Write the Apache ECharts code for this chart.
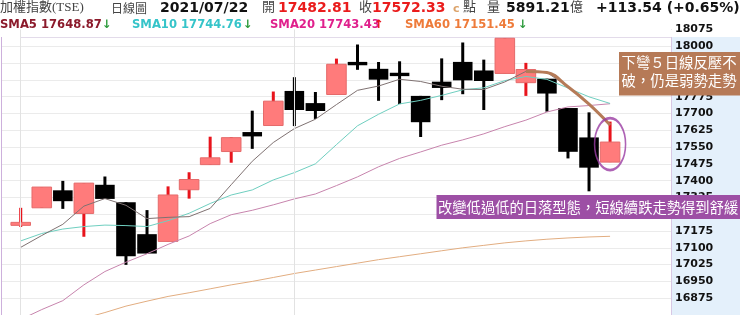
<!DOCTYPE html>
<html><head><meta charset="utf-8">
<script src="https://cdn.jsdelivr.net/npm/echarts@6/dist/echarts.min.js"></script>
<style>html,body{margin:0;padding:0;background:#fff}#c{width:740px;height:315px}</style>
</head><body><div id="c"></div>
<script>
// ---- data ----
const dates = ['06/11','06/15','06/16','06/17','06/18','06/21','06/22','06/23','06/24','06/25','06/28','06/29','06/30',
  '07/01','07/02','07/05','07/06','07/07','07/08','07/09','07/12','07/13','07/14','07/15','07/16','07/19','07/20','07/21','07/22'];
const openP  = [17201.5,17278.7,17356.8,17253.5,17381.5,17303.8,17161,17128.7,17359.4,17471.5,17530,17617,17646.2,
  17800.6,17746.3,17784.7,17930.3,17899.4,17881.8,17778.5,17842,17930.3,17892,17878.7,17837.6,17855.3,17724.3,17593,17482.81];
const closeP = [17212.5,17371.3,17308.3,17389,17318.4,17062.5,17074.4,17336,17405,17502,17592,17597.6,17755,
  17715.4,17711,17919.7,17915.3,17851,17866.8,17661,17814,17848,17845,18036,17896.3,17789,17528.8,17458,17572.33];
const highP  = [17278.7,17371.3,17399,17389,17418.5,17303.8,17268.5,17374.4,17437.5,17596.3,17595,17712.4,17798,
  17862,17796,17945,18008,17930,17933,17778.5,17946,18017,17940.4,18036,17926,17855.3,17724.3,17705,17663.8];
const lowP   = [17193.5,17278.7,17274,17149.4,17318.4,17024,17074.4,17128.7,17319.7,17471.5,17480,17542,17646.2,
  17643.6,17675.7,17784.7,17895,17756.5,17742,17595,17759.5,17786,17715.4,17878.7,17778.5,17708,17499.3,17352.4,17482.81];
const sma5  = [17102.2,17155.1,17205,17286.2,17319.9,17289.9,17230.5,17236.1,17239.3,17276,17381.9,17486.5,17570.3,
  17632.4,17674.2,17739.7,17803.3,17822.5,17852.8,17842.8,17821.6,17808.2,17807,17840.8,17887.9,17882.9,17819,17741.6,17648.87];
const sma10 = [17130.9,17164,17183.8,17194.9,17201.5,17199.3,17194.9,17221.3,17254.4,17297.9,17335.9,17358.5,17403.2,
  17435.8,17475.1,17560.8,17644.9,17696.4,17742.6,17758.5,17780.7,17805.7,17814.7,17846.8,17865.3,17852.2,17813.6,17774.3,17744.76];
const sma20 = [16780,16824.3,16864,16934.6,16994.1,17036,17073.5,17115.4,17152.9,17208.1,17247.8,17267.6,17291.9,
  17318.4,17340.4,17377.9,17416.8,17461.8,17499.3,17528.2,17558.3,17582.1,17609,17641.3,17670.2,17706.5,17729.3,17735.4,17743.43];
const sma60 = ['-','-','-',16785,16811,16839.7,16861.8,16882.9,16899.3,16916.9,16934.6,16950,16967.6,
  16985.3,17000.7,17016.2,17031.6,17047.1,17060.3,17073.5,17086.8,17100,17111,17122.1,17130.9,17138.4,17144.1,17148.5,17151.45];
const highlightFrom = 24;             // 5-day line bending down (annotated)
const circleMark = [28, 17563];       // circled last candle
const monthLines = ['06/11','07/01'];
const yMin = 16800, yMax = 18075, yStep = 75;

const candleData = dates.map((d,i)=>[i, openP[i], closeP[i], lowP[i], highP[i]]);
const sma5Down = sma5.map((v,i)=> i >= highlightFrom ? v : '-');

function renderCandle(params, api) {
  const i = api.value(0);
  const o = api.value(1), c = api.value(2), l = api.value(3), h = api.value(4);
  const pO = api.coord([i,o]), pC = api.coord([i,c]), pL = api.coord([i,l]), pH = api.coord([i,h]);
  const band = api.size([1,0])[0];
  const bw = band * 0.93;
  const x = pO[0];
  const up = c >= o;
  let top = Math.min(pO[1],pC[1]), bot = Math.max(pO[1],pC[1]);
  if (bot - top < 3) { const m = (top+bot)/2; top = m-1.5; bot = m+1.5; }
  return {type:'group', children:[
    {type:'rect', shape:{x:x-1.5, y:pH[1], width:3, height:Math.max(pL[1]-pH[1],0.1)}, style:{fill: up ? '#e8141c' : '#000'}},
    {type:'rect', shape:{x:x-bw/2, y:top, width:bw, height:bot-top},
      style: up ? {fill:'#ff7b7b', stroke:'#e56a6a', lineWidth:1} : {fill:'#000'}}
  ]};
}

const CJK = '"Noto Sans CJK TC"';
const serif = '13px "Liberation Serif",' + CJK;
const bold14 = 'bold 14px "DejaVu Sans"';
const bold12 = 'bold 11.6px "DejaVu Sans"';
function t(text, x, y, font, fill) {
  return {type:'text', x:x, y:y, silent:true, z:50, style:{text:text, font:font, fill:fill, verticalAlign:'middle'}};
}

const graphic = [
  {type:'rect', z:-10, silent:true, shape:{x:672, y:37, width:68, height:278}, style:{fill:'#e4f0fb'}},
  {type:'rect', z:1, silent:true, shape:{x:2, y:14, width:669, height:23}, style:{fill:'#fff'}},
  {type:'line', z:1, silent:true, shape:{x1:20, y1:37.5, x2:672, y2:37.5}, style:{stroke:'#e3dbea', lineWidth:1}},
  {type:'line', z:1, silent:true, shape:{x1:1.5, y1:37, x2:1.5, y2:315}, style:{stroke:'#cdb0dc', lineWidth:1}},
  {type:'line', z:1, silent:true, shape:{x1:671.5, y1:37, x2:671.5, y2:315}, style:{stroke:'#d8c8e4', lineWidth:1}},
  t('加權指數(TSE)', 0, 8, serif, '#444'),
  t('日線圖', 111, 8, '12px ' + CJK, '#444'),
  t('2021/07/22', 160, 8, bold14, '#111'),
  t('開', 262, 8, serif, '#444'),
  t('17482.81', 278, 8, bold14, '#ea1c1c'),
  t('收', 359, 8, serif, '#444'),
  t('17572.33', 372, 8, bold14, '#ea1c1c'),
  t('c', 453, 9, 'bold 11px "DejaVu Sans"', '#dca36a'),
  t('點', 463, 8, serif, '#444'),
  t('量', 487, 8, serif, '#444'),
  t('5891.21', 506, 8, bold14, '#111'),
  t('億', 570, 8, serif, '#444'),
  t('+113.54 (+0.65%)', 596, 8, bold14, '#111'),
  t('SMA5 17648.87', 0, 25, bold12, '#8b1a2b'),
  t('↓', 102, 25, bold12, '#2b9a3a'),
  t('SMA10 17744.76', 132, 25, bold12, '#35c4c9'),
  t('↓', 243, 25, bold12, '#2b9a3a'),
  t('SMA20 17743.43', 270, 25, bold12, '#e0208c'),
  t('↑', 374, 25, bold12, '#e8141c'),
  t('SMA60 17151.45', 405, 25, bold12, '#ee7b3a'),
  t('↓', 518, 25, bold12, '#2b9a3a'),
  {type:'rect', z:100, silent:true, shape:{x:619, y:52, width:121, height:43.5}, style:{fill:'#b67a57'}},
  {type:'text', z:101, silent:true, x:621.5, y:62.5, style:{text:'下彎５日線反壓不', font:'14.4px ' + CJK, fill:'#fff', verticalAlign:'middle'}},
  {type:'text', z:101, silent:true, x:621.5, y:81, style:{text:'破，仍是弱勢走勢', font:'14.4px ' + CJK, fill:'#fff', verticalAlign:'middle'}},
  {type:'rect', z:100, silent:true, shape:{x:436.5, y:195, width:303.5, height:24}, style:{fill:'#9d4fa5'}},
  {type:'text', z:101, silent:true, x:438, y:207.5, style:{text:'改變低過低的日落型態，短線續跌走勢得到舒緩', font:'14.3px ' + CJK, fill:'#fff', verticalAlign:'middle'}}
];

const chart = echarts.init(document.getElementById('c'), null, {renderer:'canvas', width:740, height:315});
chart.setOption({
  animation:false,
  backgroundColor:'#fff',
  grid:[
    {left:2, width:670, top:29.5, height:289},
    {left:10.2, width:610.4, top:29.5, height:289}
  ],
  xAxis:[
    {gridIndex:0, type:'value', show:false, min:0, max:1},
    {gridIndex:1, type:'category', data:dates, show:false, boundaryGap:true}
  ],
  yAxis:[
    {gridIndex:0, type:'value', position:'right', min:yMin, max:yMax, interval:yStep,
      axisLine:{show:false}, axisTick:{show:false},
      axisLabel:{showMinLabel:false, showMaxLabel:true, hideOverlap:false, margin:3, align:'left',
        fontFamily:'DejaVu Sans', fontWeight:'bold', fontSize:11, color:'#111',
        formatter: v => String(v)},
      splitLine:{show:true, lineStyle:{color:'#ebebeb', width:1}}},
    {gridIndex:1, type:'value', min:yMin, max:yMax, show:false}
  ],
  series:[
    {type:'line', xAxisIndex:1, yAxisIndex:1, data:dates.map(()=>'-'), z:1, silent:true, symbol:'none',
      markLine:{silent:true, symbol:'none', label:{show:false}, lineStyle:{color:'#e2e2e2', type:'solid', width:1},
        data: monthLines.map(d=>({xAxis:d}))}},
    {type:'custom', name:'K', xAxisIndex:1, yAxisIndex:1, data:candleData, renderItem:renderCandle,
      encode:{x:0, y:[1,2,3,4]}, z:2, silent:true},
    {type:'line', name:'SMA60', xAxisIndex:1, yAxisIndex:1, data:sma60, symbol:'none', z:3, silent:true, lineStyle:{width:1, color:'#e2ad80'}},
    {type:'line', name:'SMA20', xAxisIndex:1, yAxisIndex:1, data:sma20, symbol:'none', z:3, silent:true, lineStyle:{width:1, color:'#c784ad'}},
    {type:'line', name:'SMA10', xAxisIndex:1, yAxisIndex:1, data:sma10, symbol:'none', z:3, silent:true, lineStyle:{width:1, color:'#6fcfc0'}},
    {type:'line', name:'SMA5', xAxisIndex:1, yAxisIndex:1, data:sma5, symbol:'none', z:3, silent:true, lineStyle:{width:1, color:'#7f7272'}},
    {type:'line', name:'SMA5down', xAxisIndex:1, yAxisIndex:1, data:sma5Down, symbol:'none', smooth:0.4, z:5, silent:true,
      lineStyle:{width:3, color:'#b57b58'}},
    {type:'scatter', xAxisIndex:1, yAxisIndex:1, data:[circleMark], symbol:'circle', symbolSize:[31,52], z:6, silent:true,
      itemStyle:{color:'rgba(0,0,0,0)', borderColor:'#9a3ca2', borderWidth:2}}
  ],
  graphic: graphic
});
</script></body></html>
